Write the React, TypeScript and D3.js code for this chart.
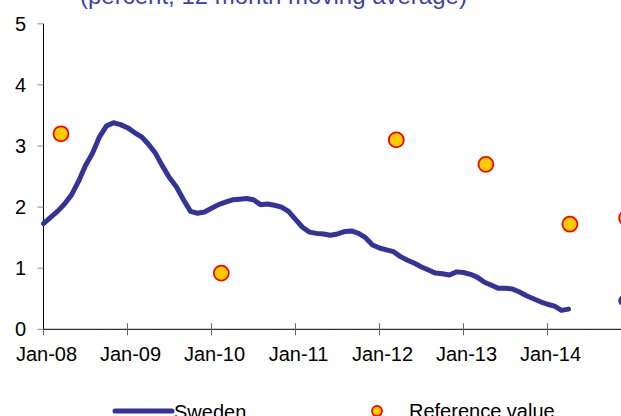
import React from "react";
import * as d3 from "d3";

const title = "(percent, 12 month moving average)";
const yearLabels = ["Jan-08", "Jan-09", "Jan-10", "Jan-11", "Jan-12", "Jan-13", "Jan-14"];
const yTicks = [0, 1, 2, 3, 4, 5];

// Sweden, monthly from Jan-08
const swedenValues = [
  1.73, 1.83, 1.93, 2.05, 2.2, 2.42, 2.68, 2.88, 3.15, 3.33, 3.38, 3.35,
  3.3, 3.22, 3.15, 3.03, 2.88, 2.67, 2.48, 2.33, 2.12, 1.93, 1.9, 1.92,
  1.98, 2.04, 2.08, 2.12, 2.13, 2.14, 2.12, 2.04, 2.05, 2.03, 2.0, 1.93,
  1.8, 1.67, 1.59, 1.57, 1.56, 1.54, 1.56, 1.6, 1.61, 1.57, 1.5, 1.38,
  1.33, 1.3, 1.27, 1.19, 1.13, 1.08, 1.02, 0.97, 0.92, 0.91, 0.89, 0.94,
  0.93, 0.9, 0.85, 0.77, 0.72, 0.67, 0.67, 0.66, 0.61, 0.55, 0.5, 0.45,
  0.41, 0.38, 0.31, 0.33,
];
// Sweden forecast point (month index since Jan-08)
const swedenForecastMonth = [82.9];
const swedenForecastValue = [0.47];

// Reference values (month index since Jan-08)
const refMonths = [2.5, 25.4, 50.4, 63.2, 75.2, 83.3];
const refValues = [3.2, 0.92, 3.1, 2.7, 1.72, 1.82];

const W = 621;
const H = 416;
const FONT = "'Liberation Sans', Arial, Helvetica, sans-serif";
const LINE = "#333399";

export default function App() {
  const x = d3.scaleLinear().domain([0, 84]).range([43.5, 43.5 + 84 * 7]);
  const y = d3.scaleLinear().domain([0, 5]).range([329.3, 23.8]);
  const line = d3
    .line<number>()
    .x((_, i) => x(i))
    .y((d) => y(d))
    .curve(d3.curveLinear);

  const xTickMonths = d3.range(0, 85, 12);

  return (
    <svg
      width={W}
      height={H}
      style={{ position: "absolute", left: 0, top: 0, overflow: "hidden", background: "#fff" }}
      fontFamily={FONT}
    >
      <rect x={0} y={0} width={W} height={H} fill="#fff" />
      <text x={80} y={3.5} fontSize={24} fill="#3F3FAF">
        {title}
      </text>

      {/* y axis */}
      <line x1={x(0)} x2={x(0)} y1={y(5)} y2={y(0)} stroke="#000" strokeWidth={1} />
      {yTicks.map((t) => (
        <g key={t}>
          <line x1={x(0) - 6} x2={x(0)} y1={y(t)} y2={y(t)} stroke="#888" strokeWidth={1} />
          <text x={26} y={y(t)} dy="0.35em" fontSize={20} textAnchor="end" fill="#000">
            {t}
          </text>
        </g>
      ))}

      {/* x axis */}
      <line x1={x(0)} x2={W + 20} y1={y(0)} y2={y(0)} stroke="#000" strokeWidth={1} />
      {xTickMonths.map((m) => (
        <line
          key={m}
          x1={x(m)}
          x2={x(m)}
          y1={m === 0 ? y(0) : y(0) - 6}
          y2={y(0) + 6}
          stroke="#666"
          strokeWidth={1}
        />
      ))}
      {yearLabels.map((lab, i) => (
        <text key={lab} x={x(i * 12) + 3} y={361} fontSize={20} textAnchor="middle" fill="#000">
          {lab}
        </text>
      ))}

      {/* Sweden line */}
      <path d={line(swedenValues) || ""} fill="none" stroke={LINE} strokeWidth={5} strokeLinejoin="round" strokeLinecap="round" />
      {swedenForecastMonth.map((m, i) => (
        <circle key={i} cx={x(m)} cy={y(swedenForecastValue[i])} r={5.5} fill={LINE} />
      ))}

      {/* Reference values */}
      {refMonths.map((m, i) => (
        <circle key={i} cx={x(m)} cy={y(refValues[i])} r={7.5} fill="#FFCC00" stroke="#FF0000" strokeWidth={1.8} />
      ))}

      {/* legend */}
      <line x1={115} x2={172} y1={411} y2={411} stroke={LINE} strokeWidth={5} strokeLinecap="round" />
      <text x={174} y={418.5} fontSize={20} fill="#000">
        Sweden
      </text>
      <circle cx={377} cy={411} r={5} fill="#FFCC00" stroke="#FF0000" strokeWidth={1.8} />
      <text x={409} y={418} fontSize={20} fill="#000">
        Reference value
      </text>
    </svg>
  );
}
